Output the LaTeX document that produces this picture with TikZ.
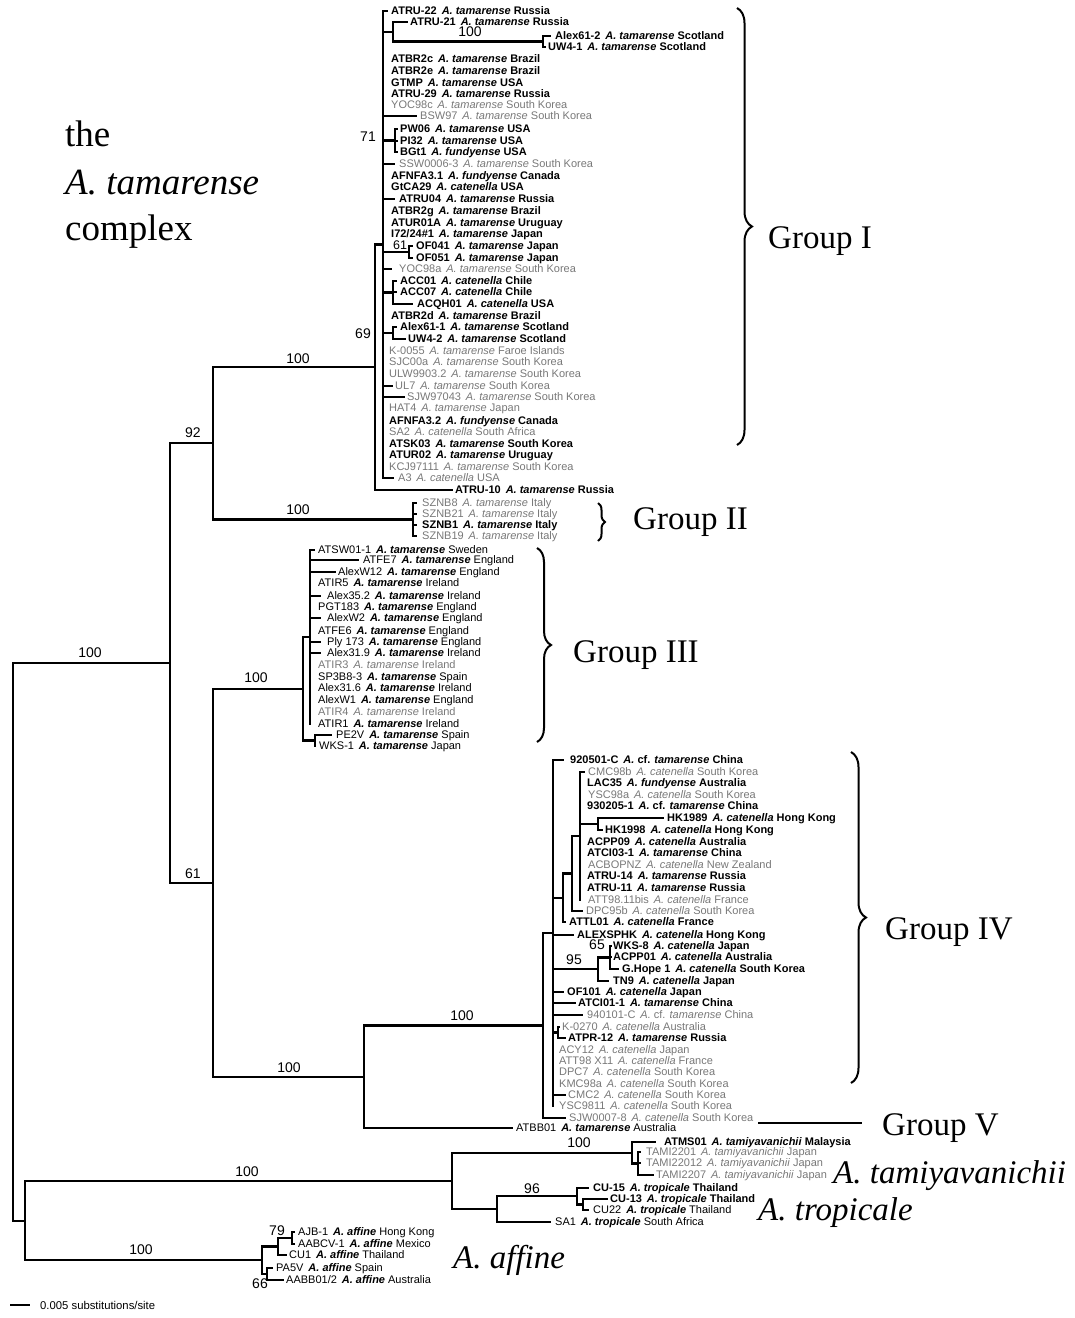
\documentclass[tikz,border=0pt]{standalone}
\usepackage{fontspec}
\setmainfont{Liberation Serif}
\newfontfamily\lf{Liberation Sans}
\usetikzlibrary{decorations.pathreplacing,calc}
\definecolor{lg}{RGB}{120,120,120}
\tikzset{
 br/.style={line width=2.1pt, line cap=rect},
 lbl/.style={anchor=base west, inner sep=0pt, yshift=-3.9pt, font=\lf\fontsize{11}{12}\selectfont},
 bs/.style={inner sep=0pt, font=\lf\fontsize{14}{15}\selectfont},
 big/.style={anchor=base west, inner sep=0pt, font=\fontsize{33}{36}\selectfont},
 brc/.style={decorate, decoration={brace, amplitude=#1}, line width=2pt},
}
\newcommand\sB[3]{{\bfseries #1\hspace{0.45em}\textit{A.~#2} #3}}
\newcommand\sM[3]{{#1\hspace{0.45em}\textbf{\textit{A.~#2}} #3}}
\newcommand\sG[3]{{\color{lg}#1\hspace{0.45em}\textit{A.~#2} #3}}
\newcommand\cft{\upshape cf. \itshape tamarense}
\newcommand\leaf[6]{%
 \coordinate (#1-b) at (#2,#4);
 \coordinate (#1-t) at (#3,#4);
 \draw[br] (#1-b) -- (#1-t);
 \node[lbl] (#1) at (#5,#4) {#6};
}
\newcommand\inode[4]{%
 \draw[br] (#2,#3) -- (#2,#4);
 \coordinate (#1) at (#2,{(#3+#4)/2});
}
\newcommand\link[2]{\draw[br] (#1 |- #2) -- (#2);}
\begin{document}
\begin{tikzpicture}[x=1pt,y=-1pt]
\useasboundingbox (0,0) rectangle (1075,1318);
% ---------------- Group I
\inode{bb}{383}{11}{478}
\leaf{a1}{383}{387}{11}{391}{\sB{ATRU-22}{tamarense}{Russia}}
\inode{n1}{393}{22}{41.5}
\link{bb}{n1}
\leaf{a2}{393}{407}{22}{410}{\sB{ATRU-21}{tamarense}{Russia}}
\inode{nA}{543}{36}{47}
\link{n1}{nA}
\leaf{a3}{543}{550}{36}{555}{\sB{Alex61-2}{tamarense}{Scotland}}
\leaf{a4}{543}{545}{47}{548}{\sB{UW4-1}{tamarense}{Scotland}}
\leaf{a5}{383}{383}{59}{391}{\sB{ATBR2c}{tamarense}{Brazil}}
\leaf{a6}{383}{383}{71}{391}{\sB{ATBR2e}{tamarense}{Brazil}}
\leaf{a7}{383}{383}{83}{391}{\sB{GTMP}{tamarense}{USA}}
\leaf{a8}{383}{383}{94}{391}{\sB{ATRU-29}{tamarense}{Russia}}
\leaf{a9}{383}{383}{105}{391}{\sG{YOC98c}{tamarense}{South Korea}}
\leaf{a10}{383}{416}{116}{420}{\sG{BSW97}{tamarense}{South Korea}}
\inode{n71}{395}{129}{152}
\link{bb}{n71}
\leaf{a11}{395}{397}{129}{400}{\sB{PW06}{tamarense}{USA}}
\leaf{a12}{395}{397}{141}{400}{\sB{PI32}{tamarense}{USA}}
\leaf{a13}{395}{397}{152}{400}{\sB{BGt1}{fundyense}{USA}}
\leaf{a14}{383}{394}{164}{399}{\sG{SSW0006-3}{tamarense}{South Korea}}
\leaf{a15}{383}{383}{176}{391}{\sB{AFNFA3.1}{fundyense}{Canada}}
\leaf{a16}{383}{383}{187}{391}{\sB{GtCA29}{catenella}{USA}}
\leaf{a17}{383}{394}{199}{399}{\sB{ATRU04}{tamarense}{Russia}}
\leaf{a18}{383}{383}{211}{391}{\sB{ATBR2g}{tamarense}{Brazil}}
\leaf{a19}{383}{383}{223}{391}{\sB{ATUR01A}{tamarense}{Uruguay}}
\leaf{a20}{383}{383}{234}{391}{\sB{I72/24\#1}{tamarense}{Japan}}
\inode{n61a}{409}{246}{258}
\link{bb}{n61a}
\leaf{a21}{409}{412}{246}{416}{\sB{OF041}{tamarense}{Japan}}
\leaf{a22}{409}{412}{258}{416}{\sB{OF051}{tamarense}{Japan}}
\leaf{a23}{383}{391}{269}{399}{\sG{YOC98a}{tamarense}{South Korea}}
\inode{nacc}{393}{281}{304}
\link{bb}{nacc}
\leaf{a24}{393}{396}{281}{400}{\sB{ACC01}{catenella}{Chile}}
\leaf{a25}{393}{396}{292}{400}{\sB{ACC07}{catenella}{Chile}}
\leaf{a26}{393}{412}{304}{417}{\sB{ACQH01}{catenella}{USA}}
\leaf{a27}{383}{383}{316}{391}{\sB{ATBR2d}{tamarense}{Brazil}}
\inode{nal}{393}{327}{339}
\link{bb}{nal}
\leaf{a28}{393}{396}{327}{400}{\sB{Alex61-1}{tamarense}{Scotland}}
\leaf{a29}{393}{405}{339}{408}{\sB{UW4-2}{tamarense}{Scotland}}
\leaf{a30}{383}{383}{351}{389}{\sG{K-0055}{tamarense}{Faroe Islands}}
\leaf{a31}{383}{383}{362}{389}{\sG{SJC00a}{tamarense}{South Korea}}
\leaf{a32}{383}{383}{374}{389}{\sG{ULW9903.2}{tamarense}{South Korea}}
\leaf{a33}{383}{392}{386}{395}{\sG{UL7}{tamarense}{South Korea}}
\leaf{a34}{383}{404}{397}{407}{\sG{SJW97043}{tamarense}{South Korea}}
\leaf{a35}{383}{383}{408}{389}{\sG{HAT4}{tamarense}{Japan}}
\leaf{a36}{383}{383}{421}{389}{\sB{AFNFA3.2}{fundyense}{Canada}}
\leaf{a37}{383}{383}{432}{389}{\sG{SA2}{catenella}{South Africa}}
\leaf{a38}{383}{383}{444}{389}{\sB{ATSK03}{tamarense}{South Korea}}
\leaf{a39}{383}{383}{455}{389}{\sB{ATUR02}{tamarense}{Uruguay}}
\leaf{a40}{383}{383}{467}{389}{\sG{KCJ97111}{tamarense}{South Korea}}
\leaf{a41}{383}{393}{478}{398}{\sG{A3}{catenella}{USA}}
\inode{ng1}{375}{244.5}{490}
\link{ng1}{bb}
\leaf{a42}{375}{452}{490}{455}{\sB{ATRU-10}{tamarense}{Russia}}
% ---------------- Group II
\inode{ng2}{413}{503}{536}
\leaf{b1}{413}{416}{503}{422}{\sG{SZNB8}{tamarense}{Italy}}
\leaf{b2}{413}{416}{514}{422}{\sG{SZNB21}{tamarense}{Italy}}
\leaf{b3}{413}{416}{525}{422}{\sB{SZNB1}{tamarense}{Italy}}
\leaf{b4}{413}{416}{536}{422}{\sG{SZNB19}{tamarense}{Italy}}
\inode{n92}{213}{367.25}{519.5}
\link{n92}{ng1}
\link{n92}{ng2}
% ---------------- Group III
\inode{bb3}{310}{550}{724}
\leaf{c1}{310}{314}{550}{318}{\sM{ATSW01-1}{tamarense}{Sweden}}
\leaf{c2}{310}{358}{560}{363}{\sM{ATFE7}{tamarense}{England}}
\leaf{c3}{310}{335}{572}{338}{\sM{AlexW12}{tamarense}{England}}
\leaf{c4}{310}{310}{583}{318}{\sM{ATIR5}{tamarense}{Ireland}}
\leaf{c5}{310}{320}{596}{327}{\sM{Alex35.2}{tamarense}{Ireland}}
\leaf{c6}{310}{310}{607}{318}{\sM{PGT183}{tamarense}{England}}
\leaf{c7}{310}{320}{618}{327}{\sM{AlexW2}{tamarense}{England}}
\leaf{c8}{310}{310}{631}{318}{\sM{ATFE6}{tamarense}{England}}
\leaf{c9}{310}{320}{642}{327}{\sM{Ply 173}{tamarense}{England}}
\leaf{c10}{310}{320}{653}{327}{\sM{Alex31.9}{tamarense}{Ireland}}
\leaf{c11}{310}{310}{665}{318}{\sG{ATIR3}{tamarense}{Ireland}}
\leaf{c12}{310}{310}{677}{318}{\sM{SP3B8-3}{tamarense}{Spain}}
\leaf{c13}{310}{310}{688}{318}{\sM{Alex31.6}{tamarense}{Ireland}}
\leaf{c14}{310}{310}{700}{318}{\sM{AlexW1}{tamarense}{England}}
\leaf{c15}{310}{310}{712}{318}{\sG{ATIR4}{tamarense}{Ireland}}
\leaf{c16}{310}{310}{724}{318}{\sM{ATIR1}{tamarense}{Ireland}}
\inode{n3s}{315}{735}{746}
\leaf{c17}{315}{331}{735}{336}{\sM{PE2V}{tamarense}{Spain}}
\leaf{c18}{315}{315}{746}{319}{\sM{WKS-1}{tamarense}{Japan}}
\inode{ng3}{303}{637}{740.5}
\link{ng3}{bb3}
\link{ng3}{n3s}
% ---------------- Group IV
\inode{n580}{580}{772}{900}
\leaf{d2}{580}{584}{772}{588}{\sG{CMC98b}{catenella}{South Korea}}
\leaf{d3}{580}{580}{783}{587}{\sB{LAC35}{fundyense}{Australia}}
\leaf{d4}{580}{580}{795}{588}{\sG{YSC98a}{catenella}{South Korea}}
\leaf{d5}{580}{580}{806}{587}{\sB{930205-1}{\cft}{China}}
\inode{nhk}{598}{818}{830}
\link{n580}{nhk}
\leaf{d6}{598}{663}{818}{667}{\sB{HK1989}{catenella}{Hong Kong}}
\leaf{d7}{598}{602}{830}{605}{\sB{HK1998}{catenella}{Hong Kong}}
\leaf{d8}{580}{580}{842}{587}{\sB{ACPP09}{catenella}{Australia}}
\leaf{d9}{580}{580}{853}{587}{\sB{ATCI03-1}{tamarense}{China}}
\leaf{d10}{580}{580}{865}{588}{\sG{ACBOPNZ}{catenella}{New Zealand}}
\leaf{d11}{580}{580}{876}{587}{\sB{ATRU-14}{tamarense}{Russia}}
\leaf{d12}{580}{580}{888}{587}{\sB{ATRU-11}{tamarense}{Russia}}
\leaf{d13}{580}{580}{900}{588}{\sG{ATT98.11bis}{catenella}{France}}
\inode{n572}{572}{836}{911}
\link{n572}{n580}
\leaf{d14}{572}{582}{911}{586}{\sG{DPC95b}{catenella}{South Korea}}
\inode{n563}{563}{873.5}{922}
\link{n563}{n572}
\leaf{d15}{563}{565}{922}{569}{\sB{ATTL01}{catenella}{France}}
\inode{n553}{553}{760}{1106}
\link{n553}{n563}
\leaf{d1}{553}{563}{760}{570}{\sB{920501-C}{\cft}{China}}
\leaf{d16}{553}{573}{935}{577}{\sB{ALEXSPHK}{catenella}{Hong Kong}}
\inode{n65}{610}{946}{969}
\leaf{d17}{610}{611}{946}{613}{\sB{WKS-8}{catenella}{Japan}}
\leaf{d18}{610}{611}{957}{613}{\sB{ACPP01}{catenella}{Australia}}
\leaf{d19}{610}{618}{969}{622}{\sB{G.Hope 1}{catenella}{South Korea}}
\inode{n95}{598}{957.5}{981}
\link{n95}{n65}
\leaf{d20}{598}{608}{981}{613}{\sB{TN9}{catenella}{Japan}}
\link{n553}{n95}
\leaf{d21}{553}{563}{992}{567}{\sB{OF101}{catenella}{Japan}}
\leaf{d22}{553}{575}{1003}{578}{\sB{ATCI01-1}{tamarense}{China}}
\leaf{d23}{553}{582}{1015}{587}{\sG{940101-C}{\cft}{China}}
\inode{nk}{558}{1027}{1038}
\link{n553}{nk}
\leaf{d24}{558}{559}{1027}{562}{\sG{K-0270}{catenella}{Australia}}
\leaf{d25}{558}{565}{1038}{568}{\sB{ATPR-12}{tamarense}{Russia}}
\leaf{d26}{553}{553}{1050}{559}{\sG{ACY12}{catenella}{Japan}}
\leaf{d27}{553}{553}{1061}{559}{\sG{ATT98 X11}{catenella}{France}}
\leaf{d28}{553}{553}{1072}{559}{\sG{DPC7}{catenella}{South Korea}}
\leaf{d29}{553}{553}{1084}{559}{\sG{KMC98a}{catenella}{South Korea}}
\leaf{d30}{553}{565}{1095}{568}{\sG{CMC2}{catenella}{South Korea}}
\leaf{d31}{553}{553}{1106}{559}{\sG{YSC9811}{catenella}{South Korea}}
\inode{ng4}{543}{933}{1118}
\link{ng4}{n553}
\leaf{d32}{543}{565}{1118}{569}{\sG{SJW0007-8}{catenella}{South Korea}}
\inode{n364}{364}{1025.5}{1128}
\link{n364}{ng4}
\leaf{e1}{364}{512}{1128}{516}{\sM{ATBB01}{tamarense}{Australia}}
\inode{n61b}{213}{688.75}{1076.75}
\link{n61b}{ng3}
\link{n61b}{n364}
\inode{n170}{170}{443.375}{882.75}
\link{n170}{n92}
\link{n170}{n61b}
% ---------------- tamiyavanichii / tropicale
\inode{nt}{638}{1152}{1175}
\leaf{f2}{638}{640}{1152}{646}{\sG{TAMI2201}{tamiyavanichii}{Japan}}
\leaf{f3}{638}{640}{1163}{646}{\sG{TAMI22012}{tamiyavanichii}{Japan}}
\leaf{f4}{638}{653}{1175}{656}{\sG{TAMI2207}{tamiyavanichii}{Japan}}
\inode{ntam}{632}{1142}{1163.5}
\link{ntam}{nt}
\leaf{f1}{632}{655}{1142}{664}{\sB{ATMS01}{tamiyavanichii}{Malaysia}}
\inode{ncu}{583}{1199}{1210}
\leaf{g2}{583}{607}{1199}{610}{\sB{CU-13}{tropicale}{Thailand}}
\leaf{g3}{583}{588}{1210}{593}{\sM{CU22}{tropicale}{Thailand}}
\inode{n96}{577}{1188}{1204.5}
\link{n96}{ncu}
\leaf{g1}{577}{588}{1188}{593}{\sB{CU-15}{tropicale}{Thailand}}
\inode{ntr}{497}{1196.25}{1222}
\link{ntr}{n96}
\leaf{g4}{497}{550}{1222}{555}{\sM{SA1}{tropicale}{South Africa}}
\inode{n452}{452}{1152.75}{1209.1}
\link{n452}{ntam}
\link{n452}{ntr}
% ---------------- affine
\inode{n79}{292}{1232}{1244}
\leaf{h1}{292}{294}{1232}{298}{\sM{AJB-1}{affine}{Hong Kong}}
\leaf{h2}{292}{294}{1244}{298}{\sM{AABCV-1}{affine}{Mexico}}
\inode{n278}{278}{1238}{1255}
\link{n278}{n79}
\leaf{h3}{278}{286}{1255}{289}{\sM{CU1}{affine}{Thailand}}
\inode{n66}{267}{1268}{1280}
\leaf{h4}{267}{272}{1268}{276}{\sM{PA5V}{affine}{Spain}}
\leaf{h5}{267}{283}{1280}{286}{\sM{AABB01/2}{affine}{Australia}}
\inode{naff}{262}{1246.5}{1274}
\link{naff}{n278}
\link{naff}{n66}
\inode{n25}{25}{1180.9}{1260.25}
\link{n25}{n452}
\link{n25}{naff}
\inode{root}{13}{663}{1220.6}
\link{root}{n170}
\link{root}{n25}
% ---------------- bootstrap values
\node[bs] (bs1) at (470,32) {100};
\node[bs] (bs2) at (368,137) {71};
\node[bs, font=\lf\fontsize{12.5}{13}\selectfont] (bs3) at (400,245.5) {61};
\node[bs] (bs4) at (363,334) {69};
\node[bs] (bs5) at (298,359) {100};
\node[bs] (bs6) at (193,433) {92};
\node[bs] (bs7) at (298,510) {100};
\node[bs] (bs8) at (90,653) {100};
\node[bs] (bs9) at (256,678) {100};
\node[bs] (bs10) at (193,874) {61};
\node[bs] (bs11) at (289,1068) {100};
\node[bs] (bs12) at (462,1016) {100};
\node[bs] (bs13) at (574,960) {95};
\node[bs] (bs14) at (597,945) {65};
\node[bs] (bs15) at (579,1143) {100};
\node[bs] (bs16) at (247,1172) {100};
\node[bs] (bs17) at (532,1189) {96};
\node[bs] (bs18) at (141,1250) {100};
\node[bs] (bs19) at (277,1231) {79};
\node[bs] (bs20) at (260,1284) {66};
% ---------------- braces and group labels
\draw[brc=15pt] (737,8) -- (737,445);
\draw[brc=7pt] (598,503) -- (598,541);
\draw[brc=14pt] (537,548) -- (537,742);
\draw[brc=15pt] (851,752) -- (851,1083);
\node[big] (G1) at (768,248) {Group I};
\node[big] (G2) at (633,529) {Group II};
\node[big] (G3) at (573,662) {Group III};
\node[big] (G4) at (885,939) {Group IV};
\coordinate (g5a) at (758,1123);
\coordinate (g5b) at (862,1123);
\draw[line width=1.8pt] (g5a) -- (g5b);
\node[big] (G5) at (882,1135) {Group V};
\node[big] (Ltam) at (833,1183) {\textit{A. tamiyavanichii}};
\node[big] (Ltro) at (758,1220) {\textit{A. tropicale}};
\node[big] (Laff) at (453,1268) {\textit{A. affine}};
\node[big, font=\fontsize{37}{40}\selectfont] (Lc1) at (65,146) {the};
\node[big, font=\fontsize{37}{40}\selectfont] (Lc2) at (65,194) {\textit{A. tamarense}};
\node[big, font=\fontsize{37}{40}\selectfont] (Lc3) at (65,240) {complex};
% ---------------- scale bar
\coordinate (sb1) at (10,1305);
\coordinate (sb2) at (30,1305);
\draw[line width=2pt] (sb1) -- (sb2);
\node[anchor=west, inner sep=0pt, font=\lf\fontsize{11.3}{12}\selectfont] (sbt) at (40,1305) {0.005 substitutions/site};
\end{tikzpicture}
\end{document}
